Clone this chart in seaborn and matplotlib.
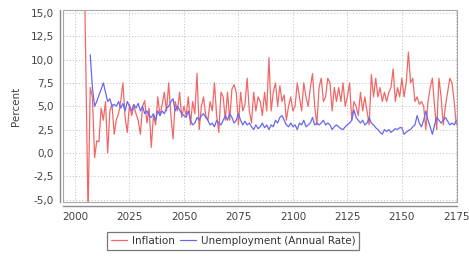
import numpy as np
import pandas as pd
import matplotlib
matplotlib.use("Agg")
import matplotlib.pyplot as plt
from matplotlib.patches import Rectangle
from matplotlib.ticker import FuncFormatter, MultipleLocator
import seaborn as sns

# ── data ────────────────────────────────────────────────────
infl_years = list(range(2004, 2176))
inflation = [
    24.0, 9.0, -6.5, 7.0, 6.0, -0.5,                              # 2004-2009
    1.3, 1.2, 4.8, 3.5, 5.5, 0.0, 4.5, 5.2, 2.0, 3.6,             # 2010s
    4.2, 5.6, 7.5, 3.8, 2.2, 5.2, 4.0, 5.0, 4.2, 3.5,             # 2020s
    2.0, 5.0, 5.6, 3.2, 4.8, 0.6, 4.0, 3.0, 6.0, 4.0,             # 2030s
    5.2, 6.5, 4.5, 7.5, 4.0, 1.5, 5.5, 4.5, 6.5, 3.8,             # 2040s
    5.0, 4.0, 6.0, 3.0, 5.5, 4.2, 8.5, 2.5, 5.0, 6.0,             # 2050s
    4.0, 3.5, 5.5, 4.5, 7.5, 4.0, 2.2, 6.5, 6.0, 3.5,             # 2060s
    6.5, 3.5, 6.8, 7.3, 6.5, 3.0, 6.5, 4.5, 5.2, 8.0,             # 2070s
    4.5, 3.2, 6.5, 4.5, 6.0, 5.5, 4.0, 6.5, 4.5, 10.2,            # 2080s
    4.5, 6.5, 7.5, 5.0, 7.2, 5.5, 6.2, 3.5, 5.0, 6.0,             # 2090s
    4.5, 5.0, 7.5, 6.0, 4.5, 7.5, 6.0, 5.0, 7.0, 8.5,             # 2100s
    5.0, 3.0, 7.0, 8.0, 5.5, 6.0, 8.0, 7.5, 4.5, 7.0,             # 2110s
    5.5, 7.0, 5.5, 7.5, 5.0, 6.0, 7.5, 3.5, 5.5, 5.0,             # 2120s
    4.0, 6.5, 4.5, 6.0, 4.5, 3.0, 8.4, 6.0, 8.0, 6.0,             # 2130s
    7.0, 5.5, 6.5, 5.5, 6.5, 7.0, 9.0, 5.5, 7.0, 6.0,             # 2140s
    8.0, 6.0, 7.5, 10.8, 7.5, 8.0, 5.5, 6.0, 5.2, 5.5,            # 2150s
    5.0, 2.5, 5.5, 7.0, 8.0, 5.0, 2.5, 8.0, 6.0, 3.0,             # 2160s
    5.0, 6.5, 8.0, 7.5, 5.5, 3.0,                                 # 2170-2175
]

unemp_years = list(range(2007, 2176))
unemployment = [
    10.5, 7.0, 5.0,                                               # 2007-2009
    5.5, 6.2, 6.8, 7.5, 6.5, 5.5, 5.8, 5.0, 5.2, 5.0,             # 2010s
    5.5, 4.8, 5.3, 4.5, 5.5, 5.0, 4.5, 5.2, 4.8, 5.3,             # 2020s
    4.5, 5.0, 4.2, 4.5, 4.0, 3.8, 4.2, 3.5, 4.5, 4.0,             # 2030s
    4.5, 4.2, 4.8, 5.0, 5.5, 5.8, 4.5, 5.0, 4.6, 4.2,             # 2040s
    4.0, 3.8, 4.5, 3.5, 3.0, 3.2, 3.8, 3.5, 4.0, 4.2,             # 2050s
    3.8, 3.5, 3.0, 3.2, 2.8, 3.5, 3.2, 3.0, 3.5, 4.0,             # 2060s
    3.5, 4.2, 3.8, 3.2, 3.5, 4.2, 3.5, 3.0, 3.4, 3.0,             # 2070s
    3.2, 2.8, 2.5, 3.0, 2.6, 2.8, 3.2, 2.7, 3.0, 2.5,             # 2080s
    3.0, 2.8, 3.5, 3.2, 3.8, 4.0, 3.5, 3.0, 2.8, 3.2,             # 2090s
    2.8, 3.0, 2.5, 3.2, 3.0, 3.5, 2.8, 3.0, 3.2, 3.8,             # 2100s
    3.0, 3.2, 3.0, 3.2, 3.5, 3.0, 3.2, 3.0, 2.5, 2.8,             # 2110s
    3.0, 2.8, 2.6, 2.5, 2.8, 3.0, 3.2, 3.5, 4.6, 3.8,             # 2120s
    3.5, 3.2, 3.5, 3.0, 3.2, 3.8, 3.2, 3.0, 2.7, 2.5,             # 2130s
    2.2, 2.0, 2.5, 2.3, 2.5, 2.2, 2.4, 2.6, 2.5, 2.7,             # 2140s
    2.7, 2.0, 2.2, 2.4, 2.5, 2.8, 3.0, 4.0, 3.2, 2.8,             # 2150s
    3.5, 4.5, 3.5, 2.8, 2.0, 3.0, 3.8, 3.5, 3.2, 3.5,             # 2160s
    3.8, 3.4, 3.0, 3.2, 3.0, 3.5,                                 # 2170-2175
]

x_ticks = list(range(2000, 2176, 25))

df = pd.concat([
    pd.DataFrame({'year': infl_years, 'value': inflation, 'series': 'Inflation'}),
    pd.DataFrame({'year': unemp_years, 'value': unemployment,
                  'series': 'Unemployment (Annual Rate)'}),
])

# ── styling ─────────────────────────────────────────────────
sns.set_style('white')
plt.rcParams['font.family'] = ['DejaVu Sans']
plt.rcParams['font.size'] = 7.5

fig = plt.figure(figsize=(4.69, 2.56), dpi=100)
W, H = 469, 256
ax = fig.add_axes([63 / W, 1 - 202 / H, (457 - 63) / W, (202 - 10) / H])

palette = {'Inflation': '#f06868', 'Unemployment (Annual Rate)': '#6868f0'}
sns.lineplot(data=df, x='year', y='value', hue='series', palette=palette,
             linewidth=0.9, ax=ax, legend=False)

ax.set_xlim(1994.5, 2175.3)
ax.set_ylim(-5.25, 15.3)
ax.set_xticks(x_ticks)
ax.yaxis.set_major_locator(MultipleLocator(2.5))
ax.yaxis.set_major_formatter(FuncFormatter(lambda v, p: f'{v:.1f}'.replace('.', ',')))

ax.grid(True, color='#c8c8c8', linestyle=(0, (1.2, 2.0)), linewidth=0.7)
ax.set_axisbelow(True)

for side in ['top', 'right']:
    ax.spines[side].set_visible(False)
ax.spines['left'].set_position(('outward', 2.5))
ax.spines['bottom'].set_position(('outward', 3))
for side in ['left', 'bottom']:
    ax.spines[side].set_color('#8c8c8c')
    ax.spines[side].set_linewidth(1.0)
ax.add_patch(Rectangle((0, 0), 1, 1, transform=ax.transAxes, fill=False,
                       edgecolor='#a8a8a8', linewidth=0.8, clip_on=False, zorder=5))

ax.tick_params(axis='both', length=2, width=0.6, color='#8c8c8c',
               labelcolor='#444444', labelsize=7.5, pad=2)
ax.set_xlabel('')
ax.set_ylabel('Percent', color='#444444', fontsize=7.5, labelpad=7)

# legend below the plot
handles = [plt.Line2D([], [], color=palette[k], linewidth=0.9) for k in palette]
leg = fig.legend(handles, list(palette.keys()), loc='center',
                 bbox_to_anchor=(233 / W, 1 - 241 / H), ncol=2, frameon=True,
                 fancybox=False, edgecolor='#555555', fontsize=7.5,
                 handlelength=1.6, handletextpad=0.4, columnspacing=0.5,
                 borderpad=0.35, labelcolor='#333333')
leg.get_frame().set_linewidth(0.9)

fig.savefig('out.png', dpi=100)
